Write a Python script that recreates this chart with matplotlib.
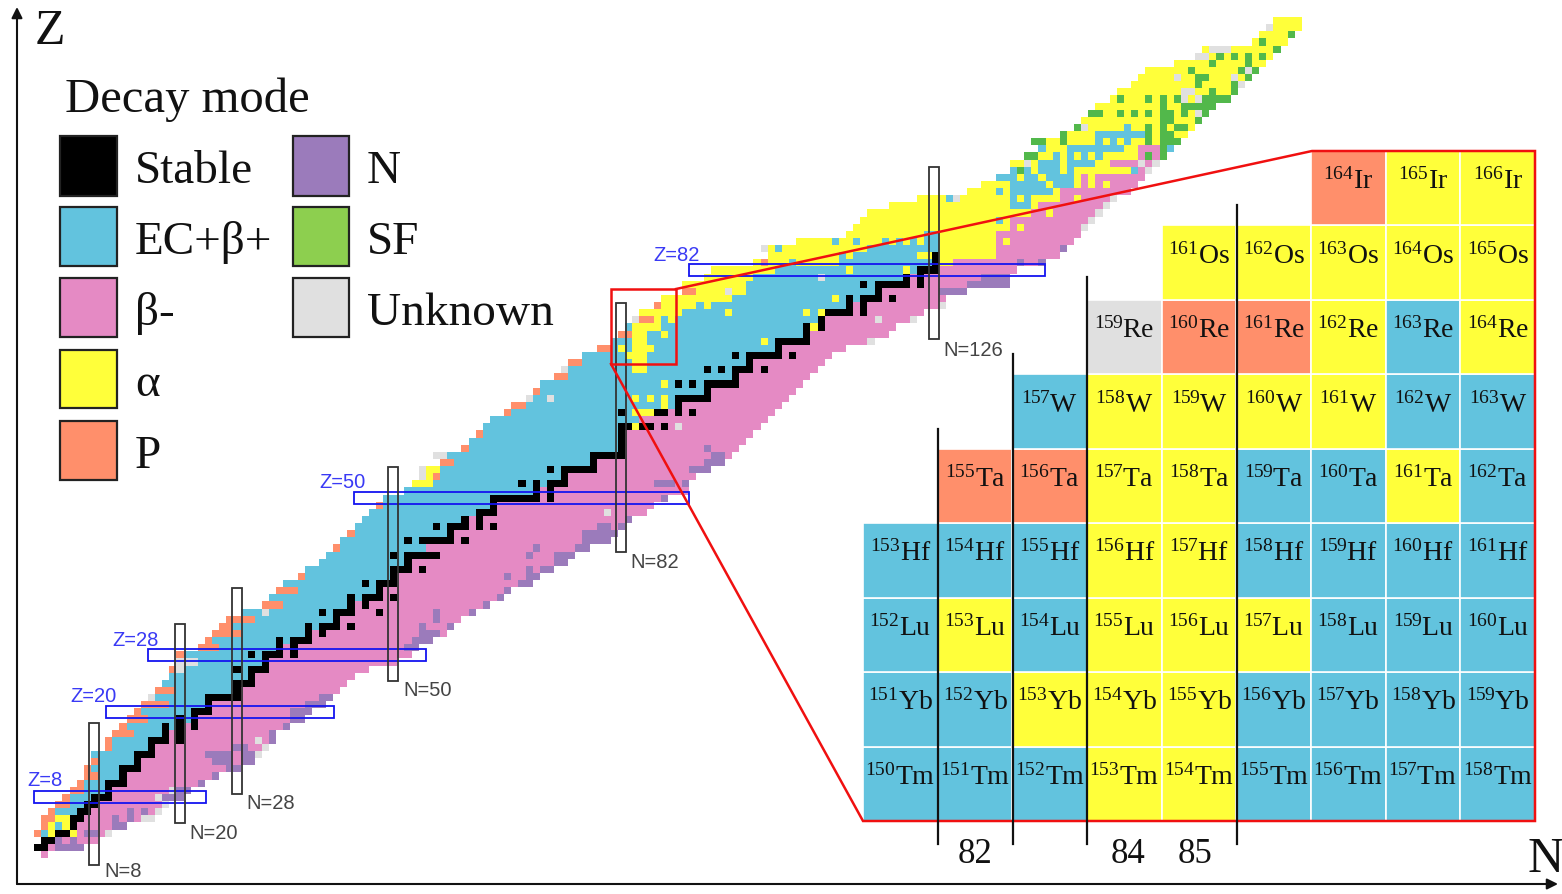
import numpy as np
import matplotlib
matplotlib.use("Agg")
import matplotlib.pyplot as plt
from matplotlib.colors import ListedColormap
from matplotlib.patches import Rectangle

# ---------- chart values ----------
MODE_NAMES = ["Stable", "EC+β+", "β-", "α", "P", "N", "SF", "Unknown"]
MODE_COLORS = ["#000000", "#62C3DE", "#E58AC4", "#FFFF3A", "#FF8F6B", "#9B7BBB", "#52B84B", "#E0E0E0"]
LEGEND_COLORS = ["#000000", "#62C3DE", "#E58AC4", "#FFFF3A", "#FF8F6B", "#9B7BBB", "#8DCF4F", "#E0E0E0"]

# first and last neutron number of each row, Z = 0, 1, 2 ...
left_edge = [1,0,1,0,1,1,2,3,4,5,6,7,7,8,8,10,10,11,12,13,14,15,16,17,18,19,19,20,20,23,
             24,25,26,27,29,32,33,34,35,37,38,40,41,42,43,44,45,46,47,48,49,52,53,54,54,57,56,60,61,62,
             63,64,66,67,69,70,71,73,74,75,77,79,81,82,83,84,85,87,88,91,91,94,95,101,103,102,107,114,115,116,
             117,120,124,131,133,135,137,137,139,141,140,144,146,147,148,149,151,152,154,155,156,160,163,164,171,172,173,174]
right_edge = [1,6,8,10,12,16,17,18,20,21,23,25,28,29,31,32,33,33,35,37,38,40,41,42,43,44,46,50,52,53,
              55,57,58,59,61,63,65,66,69,70,72,74,75,77,79,81,82,83,85,86,88,91,91,92,94,96,97,98,99,100,
              101,102,103,104,105,106,107,108,109,110,111,113,117,119,120,123,124,127,127,130,136,136,137,141,143,144,145,146,147,148,
              149,150,151,153,154,155,156,157,158,159,160,161,162,163,164,165,167,168,169,170,171,172,173,174,175,176,177,177]
# first N of the beta-minus side of each row (Z = 0 ... 99)
beta_start = [1,2,3,5,6,7,8,9,11,11,13,13,15,15,17,17,19,19,21,23,25,25,29,29,31,31,33,33,35,35,
              39,39,43,43,45,45,49,49,51,51,53,53,57,55,59,59,61,61,65,65,71,71,75,75,79,79,83,83,83,83,
              87,85,89,91,95,95,99,99,101,101,105,105,109,109,111,111,115,115,119,119,123,123,127,129,135,135,135,135,137,137,
              140,141,144,144,147,147,155,151,155,155]

stable_n = {1:[0,1],2:[1,2],3:[3,4],4:[5],5:[5,6],6:[6,7],7:[7,8],8:[8,9,10],9:[10],10:[10,11,12],11:[12],
            12:[12,13,14],13:[14],14:[14,15,16],15:[16],16:[16,17,18,20],17:[18,20],18:[18,20,22],19:[20,22],
            20:[22,23,24],21:[24],22:[24,25,26,27,28],23:[28],24:[28,29,30],25:[30],26:[28,30,31,32],27:[32],
            28:[30,32,33,34,36],29:[34,36],30:[34,36,37,38],31:[38,40],32:[38,40,41,42,44],33:[42],34:[40,42,43,44,48],
            35:[44,46],36:[44,46,47,48,50],37:[48],38:[46,48,49,50],39:[50],40:[50,51,52,54],41:[52],
            42:[50,52,53,54,55,56],44:[52,54,55,56,57,58,60],45:[58],46:[56,58,59,60,62,64],47:[60,62],48:[62,63,64],
            49:[64],50:[64,65,66,67,68,69,70,72],51:[70,72],52:[68,70,72,73,74],53:[74],54:[72,74,75,76,77,78],55:[78],
            56:[78,79,80,81,82],57:[82],58:[82],59:[82],60:[82,83,85,86,88],62:[82,87,88,90,92],63:[90],64:[90,91,92,93,94],
            65:[94],66:[90,92,94,95,96,97,98],67:[98],68:[94,96,98,99,100,102],69:[100],70:[98,100,101,102,103,104,106],
            71:[104],72:[104,105,106,107,108],73:[108],74:[108,110],75:[110],76:[111,112,113,114,116],77:[114,116],
            78:[114,116,117,118,120],79:[118],80:[116,118,119,120,121,122,124],81:[122,124],82:[124,125,126],83:[126],84:[126]}

# runs are (Z, first N, last N)
alpha_runs = [(3,2,2),(3,5,5),(4,2,2),(4,4,4),(5,3,4),(52,53,55),(53,55,55),(54,55,56),
    (60,84,84),(62,84,86),(63,88,88),(64,84,84),(64,86,86),(64,88,88),(66,88,88),(68,84,85),(69,84,85),
    (70,83,85),(71,82,82),(71,84,86),(72,84,85),(72,102,102),(73,84,85),(73,88,88),(74,84,87),(74,109,109),
    (75,87,87),(75,89,89),(76,85,90),(76,97,97),(76,108,108),(76,110,110),(77,88,92),(77,94,94),(78,88,97),
    (78,112,112),(79,93,96),(79,98,99),(80,91,99),(81,94,100),(82,95,103),(82,114,114),(82,122,122),
    (83,101,105),(83,107,112),(83,127,128),(84,103,112),(84,114,114),(84,124,125),(84,127,134),
    (85,103,103),(85,105,116),(85,127,134),(86,107,111),(86,113,114),(86,116,118),(86,120,120),(86,122,122),
    (86,124,124),(86,127,134),(86,136,136),(87,114,124),(87,127,134),(88,115,136),(88,138,138),(89,116,134),
    (89,136,136),(90,117,139),(90,142,142),(91,120,136),(91,140,140),(92,124,127),(92,130,136),(92,138,138),
    (92,140,143),(92,146,146),(93,131,134),(93,136,136),(93,143,143),(94,133,136),(94,142,142),(94,146,146),
    (94,148,148),(94,150,150),(95,138,138),(95,141,141),(95,146,146),(95,148,148),(96,140,140),(96,144,144),
    (96,146,153),(97,137,138),(97,140,140),(97,144,144),(97,149,150),(98,141,142),(98,144,144),(98,146,146),
    (98,148,148),(98,150,154),(99,142,144),(99,153,154),(100,142,143),(100,145,148),(100,150,150),(100,152,152),
    (100,154,155),(100,157,157),(101,145,148),(101,157,157),(101,160,161),(102,148,152),(102,154,155),(102,157,157),
    (102,159,159),(102,162,162),(103,147,163),(104,148,164),(105,149,165),(106,151,167),(107,152,168),(108,154,169),
    (109,155,170),(110,156,171),(111,160,172),(112,163,173),(113,164,174),(114,171,175),(115,172,176),(116,174,177),(117,174,177)]
proton_runs = [(3,0,0),(4,1,1),(5,1,2),(6,2,2),(7,3,4),(8,4,4),(9,5,6),(10,6,6),(11,7,8),(12,7,7),(13,8,8),(15,10,10),
    (16,10,10),(17,11,13),(18,12,12),(19,13,15),(20,14,14),(21,15,18),(23,17,19),(26,19,19),(28,20,20),(29,23,25),
    (30,24,24),(31,25,28),(32,26,27),(33,27,30),(35,32,34),(37,34,36),(39,37,37),(43,42,42),(45,44,44),(49,48,48),
    (53,56,56),(55,57,58),(57,60,60),(59,62,62),(62,66,66),(63,67,68),(65,70,70),(67,73,74),(69,75,76),(71,79,80),
    (73,82,83),(75,85,86),(77,87,87),(79,91,92),(83,102,102)]
unknown_runs = [(3,10,10),(5,15,16),(6,17,17),(7,18,18),(8,17,17),(9,19,19),(14,31,31),(15,32,32),(16,31,31),(22,16,16),
    (26,20,20),(27,20,22),(34,32,32),(48,80,80),(53,54,54),(54,54,54),(56,56,57),(60,90,90),(64,69,69),(64,72,72),
    (68,74,74),(72,117,117),(75,84,84),(75,118,118),(75,123,123),(77,127,127),(79,97,97),(81,110,110),(85,102,102),
    (88,147,147),(89,148,148),(90,149,149),(91,150,150),(92,129,129),(92,151,151),(96,156,156),(97,139,139),(97,155,155),
    (97,157,157),(102,147,147),(104,163,163),(106,161,161),(106,163,163),(107,161,162),(108,169,169),(109,160,160),
    (109,168,168),(110,170,170),(112,163,164),(113,165,167),(116,173,173)]
neutron_runs = [(1,3,6),(2,3,3),(2,5,5),(3,7,8),(4,11,12),(5,11,11),(5,13,13),(6,13,13),(6,15,15),(8,18,20),(9,20,21),
    (10,23,23),(11,25,25),(12,27,28),(13,25,27),(13,29,30),(14,24,27),(14,29,30),(15,28,29),(16,33,33),(17,33,33),
    (18,35,35),(19,36,37),(20,36,38),(21,38,40),(22,40,41),(29,52,53),(30,53,55),(31,54,56),(32,54,54),(32,58,58),
    (33,56,56),(34,56,56),(34,61,61),(35,63,63),(36,65,65),(37,66,66),(38,68,69),(39,66,66),(39,69,70),(40,69,69),
    (40,71,72),(41,73,74),(42,69,69),(42,73,75),(43,70,70),(43,76,77),(44,77,80),(45,77,81),(46,79,80),(46,82,82),
    (47,83,83),(50,88,88),(52,87,89),(52,91,91),(54,92,94),(55,94,96),(56,95,96),(57,94,94),(79,127,130),(80,131,136),
    (81,133,136),(83,138,138),(83,141,141),(85,144,144)]
sf_runs = [(96,138,138),(98,139,140),(98,156,156),(98,158,158),(99,158,158),(100,140,141),(100,144,144),(100,156,156),
    (100,158,160),(101,144,144),(101,156,156),(101,158,159),(102,146,146),(102,156,156),(102,158,158),(102,160,161),
    (103,158,159),(103,163,163),(104,148,149),(104,152,152),(104,154,154),(104,156,156),(104,158,159),(104,161,161),
    (104,164,164),(105,158,158),(105,161,165),(106,152,152),(106,156,156),(106,158,158),(106,160,160),(106,164,167),
    (107,165,165),(107,168,168),(108,163,163),(108,168,168),(109,163,164),(109,170,170),(110,162,162),(110,169,169),
    (110,171,171),(111,165,165),(111,170,170),(112,166,166),(112,168,168),(112,170,170),(112,172,172),(113,174,174),
    (114,172,172),(115,176,176)]
ec_runs = [(99,159,159)]

magic_z = [8, 20, 28, 50, 82]
magic_z_span = [(-0.5, 23.7), (9.65, 41.7), (15.5, 54.6), (44.5, 91.5), (91.5, 141.5)]
magic_n = [8, 20, 28, 50, 82, 126]
magic_n_span = [(-1.5, 18.4), (4.4, 32.3), (8.4, 37.4), (24.3, 54.4), (42.4, 77.4), (72.3, 96.5)]

inset_z = [69, 70, 71, 72, 73, 74, 75, 76, 77]
inset_symbols = ["Tm", "Yb", "Lu", "Hf", "Ta", "W", "Re", "Os", "Ir"]
inset_n = [81, 82, 83, 84, 85, 86, 87, 88, 89]
inset_n_labels = ["82", "84", "85"]

# ---------- build the mode grid ----------
N_MAX, Z_MAX = 178, 118
grid = np.full((Z_MAX, N_MAX), -1, dtype=int)
for z in range(Z_MAX):
    lo, hi = left_edge[z], right_edge[z]
    b = beta_start[z] if z < len(beta_start) else hi + 1
    grid[z, lo:hi + 1] = 1
    if b <= hi:
        grid[z, b:hi + 1] = 2
for mode, runs in [(3, alpha_runs), (1, ec_runs), (4, proton_runs), (7, unknown_runs), (5, neutron_runs), (6, sf_runs)]:
    for z, a, b in runs:
        grid[z, a:b + 1] = mode
for z, ns in stable_n.items():
    for n in ns:
        grid[z, n] = 0
masked = np.ma.masked_less(grid, 0)
cmap = ListedColormap(MODE_COLORS)

# ---------- figure ----------
W, H = 1562, 895
plt.rcParams["font.family"] = ["Liberation Serif", "DejaVu Serif"]
plt.rcParams["mathtext.fontset"] = "custom"
plt.rcParams["mathtext.rm"] = "Liberation Serif"
plt.rcParams["mathtext.it"] = "Liberation Serif:italic"
plt.rcParams["mathtext.bf"] = "Liberation Serif:bold"
fig = plt.figure(figsize=(W / 100, H / 100), dpi=100, facecolor="white")

# main chart: pixel x = 37.3 + 7.12 N, pixel y = 855 - 7.12 Z
PX = 7.12
ax = fig.add_axes([0, 0, 1, 1], zorder=1)
ax.set_xlim(-37.3 / PX, (W - 37.3) / PX)
ax.set_ylim((855 - H) / PX, 855 / PX)
ax.axis("off")
ax.imshow(masked, cmap=cmap, vmin=-0.5, vmax=7.5, origin="lower", interpolation="nearest",
          extent=(-0.5, N_MAX - 0.5, -0.5, Z_MAX - 0.5), aspect="auto")
ax.set_xlim(-37.3 / PX, (W - 37.3) / PX)
ax.set_ylim((855 - H) / PX, 855 / PX)

for z, (a, b) in zip(magic_z, magic_z_span):
    ax.add_patch(Rectangle((a, z - 0.85), b - a, 1.7, fill=False, ec="#1414F0", lw=1.3, zorder=3))
for n, (a, b) in zip(magic_n, magic_n_span):
    ax.add_patch(Rectangle((n - 0.7, a), 1.4, b - a, fill=False, ec="#333333", lw=1.3, zorder=4))
z_label_pos = [(27, 781), (70, 696), (112, 640), (319, 483), (653, 255)]
n_label_pos = [(104, 872), (189, 834), (246, 804), (403, 691), (630, 563), (943, 350)]

# inset
x0, x1, y_top, y_bot = 863, 1535, 152, 822
ins = fig.add_axes([x0 / W, 1 - y_bot / H, (x1 - x0) / W, (y_bot - y_top) / H], zorder=2, facecolor="none")
ins.set_xlim(inset_n[0] - 0.5, inset_n[-1] + 0.5)
ins.set_ylim(inset_z[0] - 0.5, inset_z[-1] + 0.5)
ins.axis("off")
for i, z in enumerate(inset_z):
    for n in inset_n:
        if grid[z, n] >= 0:
            ins.add_patch(Rectangle((n - 0.5, z - 0.5), 1, 1, fc=MODE_COLORS[grid[z, n]], ec="white", lw=1.2))
            ins.annotate(rf"$^{{{z + n}}}\mathrm{{{inset_symbols[i]}}}$", (n, z), xytext=(0, 5.5), textcoords="offset points",
                         ha="center", va="center", fontsize=20, color="#111111")

# overlay in pixels
ov = fig.add_axes([0, 0, 1, 1], zorder=3, facecolor="none")
ov.set_xlim(0, W)
ov.set_ylim(H, 0)
ov.axis("off")

for z, (px, py) in zip(magic_z, z_label_pos):
    ov.text(px, py, f"Z={z}", color="#3A3AF5", fontsize=14.5, family="Liberation Sans", ha="left", va="center")
for n, (px, py) in zip(magic_n, n_label_pos):
    ov.text(px, py, f"N={n}", color="#444444", fontsize=14.5, family="Liberation Sans", ha="left", va="center")

# axes arrows
ov.annotate("", xy=(17, 8), xytext=(17, 885), arrowprops=dict(arrowstyle="-|>", lw=1.5, color="#111111", mutation_scale=16, shrinkA=0, shrinkB=0))
ov.annotate("", xy=(1558, 885), xytext=(17, 885), arrowprops=dict(arrowstyle="-|>", lw=1.5, color="#111111", mutation_scale=16, shrinkA=0, shrinkB=0))
ov.text(50, 32, "Z", fontsize=36, ha="center", va="center", color="#111111")
ov.text(1546, 860, "N", fontsize=36, ha="center", va="center", color="#111111")

# legend
ov.text(65, 100, "Decay mode", fontsize=35, ha="left", va="center", color="#111111")
rows_y = [(137, 197), (208, 267), (279, 338), (351, 409), (422, 481)]
col_pos = [(0, (60, 117), 135), (5, (293, 349), 367)]
order = [[0, 1, 2, 3, 4], [5, 6, 7]]
for col, (start, (a, b), tx) in zip(order, col_pos):
    for r, m in enumerate(col):
        y0, y1 = rows_y[r]
        ov.add_patch(Rectangle((a, y0), b - a, y1 - y0, fc=LEGEND_COLORS[m], ec="#222222", lw=1.6))
        ov.text(tx, (y0 + y1) / 2 + 5, MODE_NAMES[m], fontsize=34, ha="left", va="center", color="#111111")

# zoom box and its connecting lines
RED = "#F01010"
ov.add_patch(Rectangle((611, 290), 65, 75, fill=False, ec=RED, lw=1.8))
ov.plot([676, 1312, 1535, 1535, 863, 611], [290, 152, 152, 822, 822, 365], color=RED, lw=1.8, solid_joinstyle="miter")

# shell lines across the inset
for lx, ly in [(938, 430), (1013, 355), (1087, 278), (1237, 206)]:
    ov.plot([lx, lx], [ly, 845], color="#111111", lw=1.6)
for lab, lx in zip(inset_n_labels, [975, 1128, 1195]):
    ov.text(lx, 855, lab, fontsize=25, ha="center", va="center", color="#111111")

fig.savefig("out.png", dpi=100)
